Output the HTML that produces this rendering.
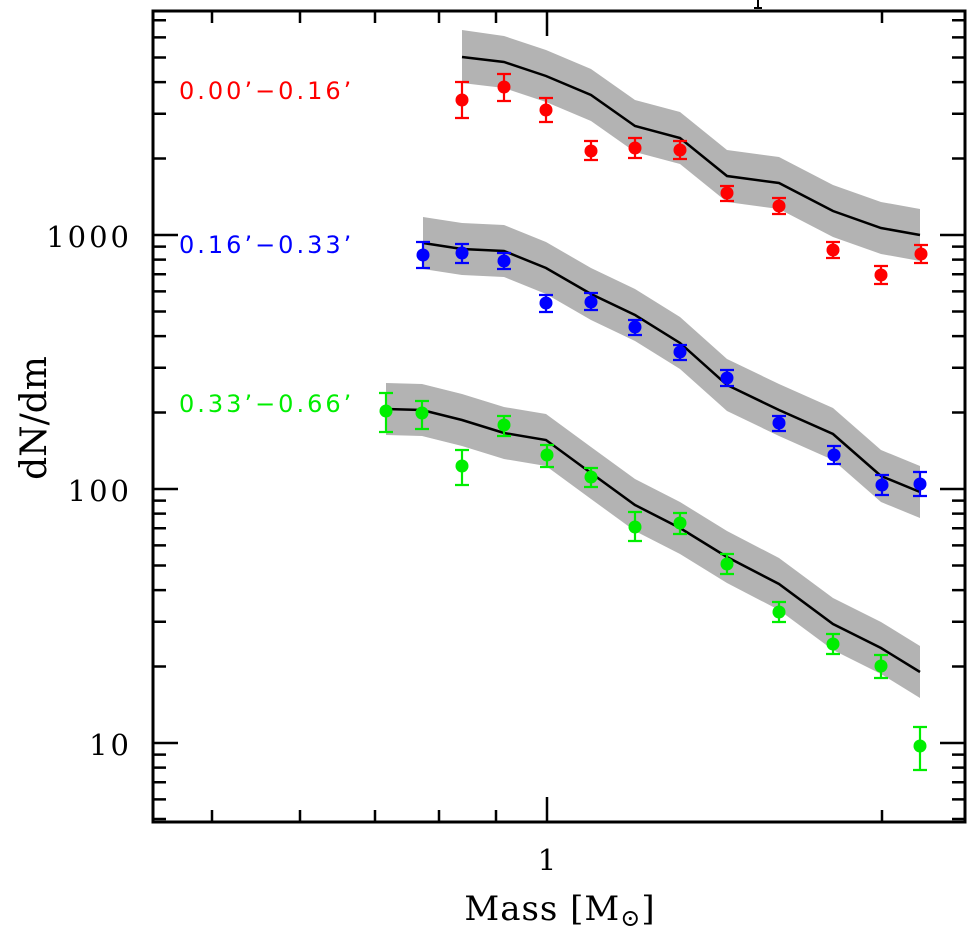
<!DOCTYPE html>
<html><head><meta charset="utf-8"><style>
html,body{margin:0;padding:0;background:#fff;}
svg{display:block;}
</style></head><body>
<svg width="978" height="938" viewBox="0 0 978 938" xmlns="http://www.w3.org/2000/svg">
<g fill="#b3b3b3" stroke="none">
<polygon points="462,30 504,36 546,50 591,69 635,100 680,112 727,150 779,157 833,185 881,202 920,209 920,261 881,254 833,237 779,209 727,202 680,164 635,152 591,121 546,102 504,88 462,83"/>
<polygon points="423,217 462,223 504,225 546,242 591,268 635,289 680,317 727,359 779,384 833,408 881,450 920,466 920,518 881,502 833,460 779,436 727,411 680,369 635,341 591,320 546,294 504,277 462,275 423,269"/>
<polygon points="386,383 422,384 462,394 504,407 546,414 591,447 635,479 680,502 727,531 779,558 833,598 881,622 920,646 920,698 881,674 833,650 779,610 727,583 680,554 635,531 591,499 546,466 504,459 462,446 422,436 386,435"/>
</g>
<g fill="none" stroke="#000" stroke-width="2.5">
<polyline points="462,57 504,62 546,76 591,95 635,126 680,138 727,176 779,183 833,211 881,228 920,235"/>
<polyline points="423,243 462,249 504,251 546,268 591,294 635,315 680,343 727,385 779,410 833,434 881,476 920,492"/>
<polyline points="386,409 422,410 462,420 504,433 546,440 591,473 635,505 680,528 727,557 779,584 833,624 881,648 920,672"/>
</g>
<g stroke="#ff0000" stroke-width="2.2" fill="#ff0000">
<path d="M462,82V118M455,82H469M455,118H469 M504,74V101M497,74H511M497,101H511 M546,98V122M539,98H553M539,122H553 M591,141V160M584,141H598M584,160H598 M635,138V158M628,138H642M628,158H642 M680,141V159M673,141H687M673,159H687 M727,186V201M720,186H734M720,201H734 M779,198V214M772,198H786M772,214H786 M833,242V258M826,242H840M826,258H840 M881,266V284M874,266H888M874,284H888 M921,245V263M914,245H928M914,263H928"/>
<g stroke="none">
<circle cx="462" cy="100" r="6.5"/><circle cx="504" cy="87" r="6.5"/><circle cx="546" cy="110" r="6.5"/><circle cx="591" cy="151" r="6.5"/><circle cx="635" cy="148" r="6.5"/><circle cx="680" cy="150" r="6.5"/><circle cx="727" cy="193" r="6.5"/><circle cx="779" cy="206" r="6.5"/><circle cx="833" cy="250" r="6.5"/><circle cx="881" cy="275" r="6.5"/><circle cx="921" cy="254" r="6.5"/>
</g></g>
<g stroke="#0000ff" stroke-width="2.2" fill="#0000ff">
<path d="M423,242V268M416,242H430M416,268H430 M462,244V263M455,244H469M455,263H469 M504,253V269M497,253H511M497,269H511 M546,295V312M539,295H553M539,312H553 M591,293V310M584,293H598M584,310H598 M635,320V335M628,320H642M628,335H642 M680,345V360M673,345H687M673,360H687 M727,370V386M720,370H734M720,386H734 M779,416V431M772,416H786M772,431H786 M834,446V464M827,446H841M827,464H841 M882,475V495M875,475H889M875,495H889 M920,472V496M913,472H927M913,496H927"/>
<g stroke="none">
<circle cx="423" cy="255" r="6.5"/><circle cx="462" cy="253" r="6.5"/><circle cx="504" cy="261" r="6.5"/><circle cx="546" cy="303" r="6.5"/><circle cx="591" cy="302" r="6.5"/><circle cx="635" cy="327" r="6.5"/><circle cx="680" cy="352" r="6.5"/><circle cx="727" cy="378" r="6.5"/><circle cx="779" cy="423" r="6.5"/><circle cx="834" cy="455" r="6.5"/><circle cx="882" cy="485" r="6.5"/><circle cx="920" cy="484" r="6.5"/>
</g></g>
<g stroke="#00ee00" stroke-width="2.2" fill="#00ee00">
<path d="M386,393V432M379,393H393M379,432H393 M422,401V429M415,401H429M415,429H429 M462,450V485M455,450H469M455,485H469 M504,416V436M497,416H511M497,436H511 M547,445V467M540,445H554M540,467H554 M591,468V487M584,468H598M584,487H598 M635,512V541M628,512H642M628,541H642 M680,513V534M673,513H687M673,534H687 M727,554V574M720,554H734M720,574H734 M779,602V622M772,602H786M772,622H786 M833,634V654M826,634H840M826,654H840 M881,655V678M874,655H888M874,678H888 M920,727V770M913,727H927M913,770H927"/>
<g stroke="none">
<circle cx="386" cy="411" r="6.5"/><circle cx="422" cy="413" r="6.5"/><circle cx="462" cy="466" r="6.5"/><circle cx="504" cy="425" r="6.5"/><circle cx="547" cy="455" r="6.5"/><circle cx="591" cy="477" r="6.5"/><circle cx="635" cy="527" r="6.5"/><circle cx="680" cy="523" r="6.5"/><circle cx="727" cy="564" r="6.5"/><circle cx="779" cy="612" r="6.5"/><circle cx="833" cy="644" r="6.5"/><circle cx="881" cy="666" r="6.5"/><circle cx="920" cy="746" r="6.5"/>
</g></g>
<rect x="153" y="11" width="812" height="811" fill="none" stroke="#000" stroke-width="3"/>
<g stroke="#000" stroke-width="2.5">
<path d="M153,235H178M153,489H178M153,743H178 M965,235H940M965,489H940M965,743H940"/>
<path d="M153,20.3H166M153,37.4H166M153,57.5H166M153,82.1H166M153,113.8H166M153,158.5H166
M153,246.6H166M153,259.6H166M153,274.3H166M153,291.4H166M153,311.5H166M153,336.1H166M153,367.8H166M153,412.5H166
M153,500.6H166M153,513.6H166M153,528.3H166M153,545.4H166M153,565.5H166M153,590.1H166M153,621.8H166M153,666.5H166
M153,754.6H166M153,767.6H166M153,782.3H166M153,799.4H166M153,819H166
M965,20.3H952M965,37.4H952M965,57.5H952M965,82.1H952M965,113.8H952M965,158.5H952
M965,246.6H952M965,259.6H952M965,274.3H952M965,291.4H952M965,311.5H952M965,336.1H952M965,367.8H952M965,412.5H952
M965,500.6H952M965,513.6H952M965,528.3H952M965,545.4H952M965,565.5H952M965,590.1H952M965,621.8H952M965,666.5H952
M965,754.6H952M965,767.6H952M965,782.3H952M965,799.4H952M965,819H952"/>
<path d="M547,822V797M547,11V36 M212,822V810M300,822V810M375,822V810M439,822V810M496,822V810M882,822V810
M212,11V23M300,11V23M375,11V23M439,11V23M496,11V23M882,11V23"/>
</g>
<g font-family="'DejaVu Serif','Liberation Serif',serif" font-size="29" fill="#000">
<text x="132" y="247" text-anchor="end" letter-spacing="3">1000</text>
<text x="132" y="501" text-anchor="end" letter-spacing="3">100</text>
<text x="132" y="755" text-anchor="end" letter-spacing="3">10</text>
<text x="547" y="870" text-anchor="middle">1</text>
<text x="560" y="920" text-anchor="middle" font-size="34" letter-spacing="1">Mass [M<tspan font-size="24" dy="6">⊙</tspan><tspan dy="-6">]</tspan></text>
<text transform="translate(46,418) rotate(-90)" text-anchor="middle" font-size="36">dN/dm</text>
</g>
<g font-family="'DejaVu Sans','Liberation Sans',sans-serif" font-size="24" letter-spacing="3">
<text x="179" y="99" fill="#ff0000">0.00’−0.16’</text>
<text x="179" y="253" fill="#0000ff">0.16’−0.33’</text>
<text x="179" y="412" fill="#00ee00">0.33’−0.66’</text>
</g>
<path d="M758,0V8M754,8H762" stroke="#000" stroke-width="2"/>
</svg>
</body></html>
